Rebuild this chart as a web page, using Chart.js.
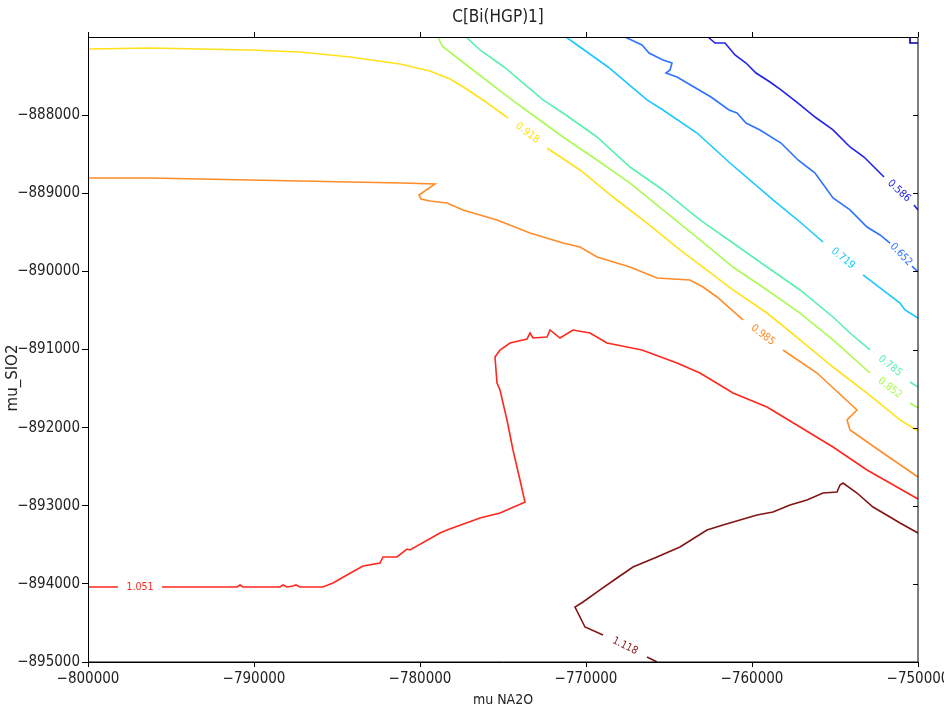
<!DOCTYPE html>
<html><head><meta charset="utf-8">
<script src="https://cdn.jsdelivr.net/npm/chart.js@4"></script>
<style>html,body{margin:0;padding:0;background:#fff}#wrap{width:944px;height:709px;position:relative}</style>
</head><body><div id="wrap"><canvas id="c"></canvas></div>
<script>
const chartTitle = 'C[Bi(HGP)1]';
const xTitle = 'mu NA2O';
const yTitle = 'mu_SIO2';
const xTickStep = 10000;
const yTickStep = 1000;

const levels = ['0.519','0.586','0.652','0.719','0.785','0.852','0.918','0.985','1.051','1.118'];

const x0519 = [-750482, -750482, -750000];
const y0519 = [-887000, -887077, -887077];

const x0586 = [-762651,-762229,-761626,-761024,-760361,-759759,-758916,-758253,-757229,-756205,-755120,-754096,-753253,-752048,null,-750241,-750000];
const y0586 = [-887000,-887077,-887077,-887230,-887333,-887461,-887576,-887678,-887845,-888024,-888190,-888408,-888536,-888792,null,-889150,-889214];

const x0652 = [-767651,-766626,-766205,-765361,-764819,-764940,-765181,-764518,-763494,-762470,-761386,-760904,-760361,-759518,-758253,-757229,-756205,-755120,-754096,-753072,-752289,-751687,null,-750361,-750000];
const y0652 = [-887000,-887102,-887205,-887294,-887333,-887422,-887461,-887512,-887640,-887768,-887934,-887973,-888101,-888190,-888357,-888574,-888741,-889061,-889214,-889432,-889534,-889637,null,-889931,-890008];

const x0719 = [-771205,-770361,-768675,-766325,-765361,-763313,-761325,-758735,-757108,-755723,null,-753313,-751084,-750783,-750000];
const y0719 = [-887000,-887128,-887384,-887806,-887934,-888229,-888613,-889086,-889368,-889624,null,-890046,-890405,-890494,-890597];

const x0785 = [-777229,-776386,-774940,-772590,-771386,-769337,-767349,-765361,-763133,-761145,-759096,-757108,-755120,-754096,-752892,null,-750482,-750000];
const y0785 = [-887000,-887166,-887384,-887806,-887973,-888280,-888664,-888958,-889342,-889637,-889944,-890238,-890584,-890789,-891006,null,-891416,-891480];

const x0852 = [-778916,-778675,-777048,-774458,-773373,-771386,-769337,-767349,-765361,-763133,-761145,-759096,-757108,-755120,-752892,null,-750482,-750000];
const y0852 = [-887000,-887115,-887384,-887806,-887973,-888280,-888574,-888869,-889214,-889598,-889944,-890238,-890533,-890878,-891301,null,-891685,-891749];

const x0918 = [-800000,-796265,-793253,-790241,-787229,-784217,-781205,-779398,-778193,-777289,-776205,-774699,null,-772349,-770361,-768373,-766325,-764337,-763133,-761145,-759096,-757108,-755120,-753072,-751084,-750000];
const y0918 = [-887154,-887141,-887154,-887166,-887192,-887256,-887346,-887435,-887538,-887653,-887806,-888037,null,-888421,-888702,-889048,-889381,-889726,-889918,-890238,-890533,-890878,-891224,-891557,-891902,-892043];

const x0985 = [-800000,-796265,-793253,-790241,-787229,-784217,-781024,-779096,-780060,-779940,-779398,-778373,-777410,-775361,-773373,-771386,-770361,-769337,-767349,-765723,-763735,-762952,-762108,-760542,null,-758133,-756084,-753675,-754277,-754096,-752108,-750000];
const y0985 = [-888805,-888805,-888818,-888830,-888843,-888856,-888869,-888882,-889022,-889074,-889099,-889125,-889214,-889342,-889509,-889637,-889688,-889816,-889944,-890085,-890110,-890200,-890328,-890622,null,-891006,-891301,-891774,-891902,-892030,-892325,-892632];

const x1051 = [-800000,-798193,null,-795542,-791024,-790843,-790663,-788434,-788253,-788012,-787651,-787470,-787229,-785843,-785241,-784398,-783434,-782410,-782229,-781386,-780783,-780602,-778795,-778373,-776386,-775181,-773795,-773675,-773976,-774398,-774759,-775000,-775181,-775361,-775482,-775181,-774578,-773554,-773373,-773193,-772349,-772169,-771566,-770783,-769759,-768735,-766626,-764518,-763133,-761145,-759096,-757108,-755120,-753072,-750000];
const y1051 = [-894040,-894040,null,-894040,-894040,-894014,-894040,-894040,-894014,-894040,-894027,-894014,-894040,-894040,-893989,-893886,-893771,-893733,-893656,-893656,-893554,-893566,-893349,-893310,-893157,-893093,-892965,-892952,-892670,-892286,-891902,-891685,-891518,-891429,-891096,-891006,-890917,-890866,-890789,-890853,-890840,-890750,-890853,-890750,-890789,-890917,-891006,-891173,-891301,-891557,-891736,-891992,-892248,-892542,-892914];

const x1118 = [-750000,-751084,-751687,-752711,-753675,-754518,-754699,-754880,-755723,-756687,-757711,-758735,-759699,-760723,-761747,-762711,-764337,-765723,-767169,-768133,-769157,-770181,-770663,-770060,-768976,null,-766325,-765723];
const y1118 = [-893349,-893221,-893144,-893016,-892837,-892709,-892734,-892824,-892837,-892926,-892990,-893080,-893118,-893182,-893246,-893310,-893528,-893656,-893784,-893925,-894078,-894232,-894296,-894552,-894654,null,-894936,-895000];

const seriesX = [x0519, x0586, x0652, x0719, x0785, x0852, x0918, x0985, x1051, x1118];
const seriesY = [y0519, y0586, y0652, y0719, y0785, y0852, y0918, y0985, y1051, y1118];

// styles
const colors = ['rgb(0,0,165)','rgb(35,35,235)','rgb(45,115,255)','rgb(25,200,255)','rgb(90,240,175)','rgb(170,250,85)','rgb(255,225,25)','rgb(255,140,40)','rgb(255,40,30)','rgb(130,20,20)'];
const FONT = '"DejaVu Sans Condensed","Liberation Sans Narrow","DejaVu Sans",sans-serif';
const FONT_WIDE = '"DejaVu Sans",sans-serif';
const fmt = v => (v < 0 ? '\u2212' : '') + Math.abs(v);

const datasets = seriesX.map((xs, i) => ({
  label: levels[i],
  data: xs.map((x, j) => ({x: x, y: seriesY[i][j]})),
  showLine: true,
  borderColor: colors[i],
  backgroundColor: colors[i],
  borderWidth: 1.6,
  pointRadius: 0,
  pointHoverRadius: 0,
  tension: 0,
  fill: false,
  spanGaps: false
}));

const overlay = {
  id: 'overlay',
  afterDatasetsDraw(chart) {
    const ctx = chart.ctx;
    chart.data.datasets.forEach((ds, i) => {
      const k = ds.data.findIndex(p => p.x === null);
      if (k < 1) return;
      const meta = chart.getDatasetMeta(i);
      const p0 = meta.data[k - 1], p1 = meta.data[k + 1];
      if (!p0 || !p1) return;
      let ang = Math.atan2(p1.y - p0.y, p1.x - p0.x);
      if (ang > Math.PI / 2) ang -= Math.PI;
      if (ang < -Math.PI / 2) ang += Math.PI;
      ctx.save();
      ctx.translate((p0.x + p1.x) / 2, (p0.y + p1.y) / 2);
      ctx.rotate(ang);
      ctx.font = '10.5px ' + FONT;
      ctx.fillStyle = ds.borderColor;
      ctx.textAlign = 'center';
      ctx.textBaseline = 'middle';
      ctx.fillText(ds.label, 0, 0);
      ctx.restore();
    });
  },
  afterDraw(chart) {
    const ctx = chart.ctx;
    const a = chart.chartArea;
    const xs = chart.scales.x, ys = chart.scales.y;
    ctx.save();
    ctx.strokeStyle = '#000';
    ctx.lineWidth = 1;
    ctx.strokeRect(a.left + 0.5, a.top + 0.5, a.right - a.left - 0.5, a.bottom - a.top - 0.5);
    ctx.beginPath();
    xs.ticks.forEach(t => {
      const px = Math.round(xs.getPixelForValue(t.value)) + 0.5;
      ctx.moveTo(px, a.top); ctx.lineTo(px, a.top - 5);
    });
    ys.ticks.forEach(t => {
      const py = Math.round(ys.getPixelForValue(t.value)) + 0.5;
      ctx.moveTo(a.right, py); ctx.lineTo(a.right - 5, py);
    });
    ctx.stroke();
    ctx.fillStyle = '#222';
    ctx.textAlign = 'center';
    ctx.textBaseline = 'middle';
    ctx.font = '17px ' + FONT;
    ctx.fillText(chartTitle, (a.left + a.right) / 2 - 5, 18);
    ctx.font = '14px ' + FONT;
    ctx.fillText(xTitle, (a.left + a.right) / 2, 700);
    ctx.translate(13, 378);
    ctx.rotate(-Math.PI / 2);
    ctx.font = '15px ' + FONT_WIDE;
    ctx.fillText(yTitle, 0, 0);
    ctx.restore();
  }
};

new Chart(document.getElementById('c'), {
  type: 'scatter',
  data: { datasets: datasets },
  options: {
    responsive: true,
    maintainAspectRatio: false,
    animation: false,
    events: [],
    layout: { padding: { top: 37, right: 26, left: 0, bottom: 0 } },
    plugins: { legend: { display: false }, tooltip: { enabled: false }, title: { display: false } },
    scales: {
      x: {
        type: 'linear', min: -800000, max: -750000,
        ticks: { stepSize: xTickStep, callback: v => fmt(v), font: { family: FONT, size: 15 }, color: '#222', padding: 3, maxRotation: 0, autoSkip: false },
        grid: { drawOnChartArea: false, tickLength: 5, color: '#000' },
        border: { color: '#000', width: 1 },
        afterFit: s => { s.height = 47; s.paddingLeft = 0; s.paddingRight = 0; }
      },
      y: {
        type: 'linear', min: -895000, max: -887000,
        ticks: { stepSize: yTickStep, callback: v => fmt(v), font: { family: FONT, size: 15 }, color: '#222', padding: 2, autoSkip: false },
        grid: { drawOnChartArea: false, tickLength: 6, color: '#000' },
        border: { color: '#000', width: 1 },
        afterBuildTicks: s => { s.ticks = s.ticks.filter(t => t.value % yTickStep === 0 && t.value < -887000); },
        afterFit: s => { s.width = 88; s.paddingTop = 0; s.paddingBottom = 0; }
      }
    }
  },
  plugins: [overlay]
});
</script>
</body></html>
